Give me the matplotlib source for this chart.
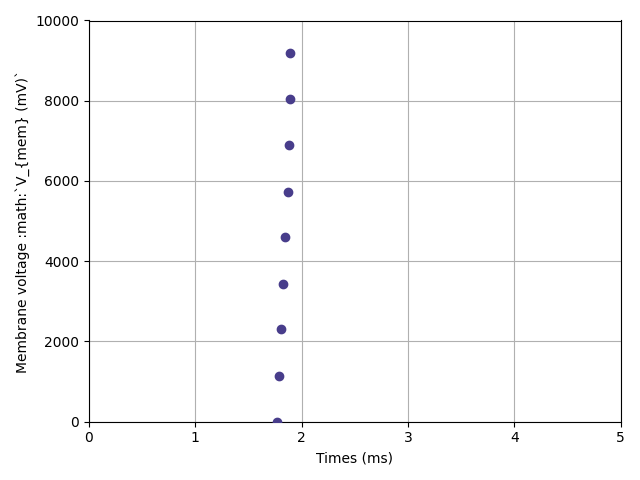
import matplotlib
matplotlib.use('Agg')
import matplotlib.pyplot as plt

# spike times (ms) and membrane voltage values
times = [1.770, 1.789, 1.807, 1.826, 1.845, 1.873, 1.883, 1.889, 1.892]
voltage = [5, 1135, 2300, 3445, 4595, 5735, 6895, 8045, 9195]

fig, ax = plt.subplots(figsize=(6.4, 4.8), dpi=100)
ax.scatter(times, voltage, color='#483d8b', zorder=3)
ax.set_xlim(0, 5)
ax.set_ylim(0, 10000)
ax.grid(True, color='#b0b0b0')
ax.set_axisbelow(True)
ax.set_xlabel('Times (ms)')
ax.set_ylabel('Membrane voltage :math:`V_{mem} (mV)`')
plt.tight_layout()
plt.savefig('out.png')
